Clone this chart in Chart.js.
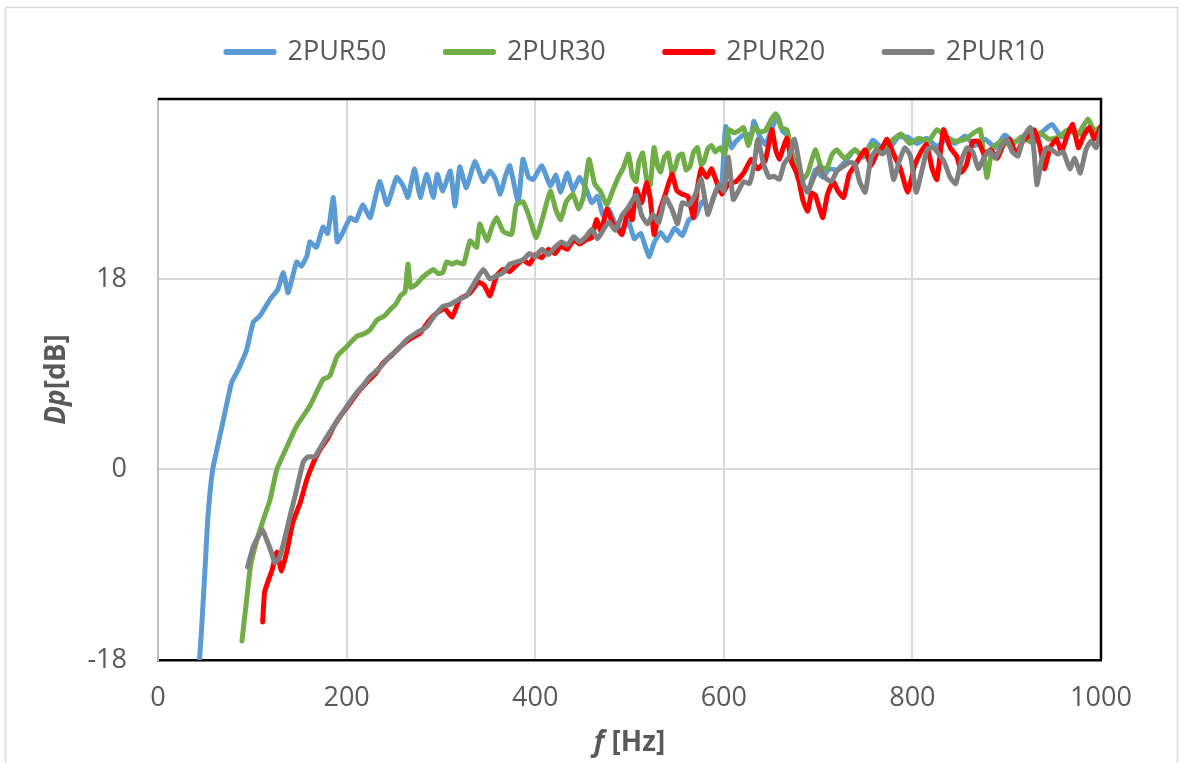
<!DOCTYPE html>
<html>
<head>
<meta charset="utf-8">
<script src="https://cdn.jsdelivr.net/npm/chart.js@4.4.1/dist/chart.umd.min.js"></script>
<style>
  html, body { margin: 0; padding: 0; background: #fff; }
  #wrap { width: 1181px; height: 763px; }
</style>
</head>
<body>
<div id="wrap"><canvas id="chart" width="1181" height="763"></canvas></div>
<script>
// series labels and colours
const SERIES = ['2PUR50', '2PUR30', '2PUR20', '2PUR10'];
const COLORS = ['#5b9bd5', '#70ad47', '#ff0000', '#808080'];

// tick values
const X_TICK_STEP = 200;
const Y_TICKS = [-18, 0, 18];

// 2PUR50 (blue)
const F_50 = [44,46,50,53,58,64,71,78,85,94,101,108,119,127,133,138,147,152,158,161,168,175,180,186,190,195,
  204,210,217,225,235,243,253,260,265,272,278,285,292,296,302,310,315,320,327,336,345,352,358,363,368,373,382,387,393,398,
  407,416,422,427,434,440,447,454,460,466,472,478,485,492,499,505,512,517,521,526,533,540,548,556,563,570,577,585,592,598,
  602,608,613,621,629,632,638,644,650,657,662,667,673,678,684,689,697,705,712,720,728,739,748,758,767,776,785,795,
  805,815,826,836,845,856,866,877,888,898,908,918,928,938,948,958,968,978,988,998,1000];
const DP_50 = [-18,-15.4,-9.2,-4.4,0,2.5,5.4,8.2,9.4,11.3,13.9,14.5,16.1,17,18.6,16.7,19.6,19.2,20.2,21.5,21.0,22.9,22.3,25.7,21.5,22.2,
  23.8,23.5,25,23.8,27.2,25,27.6,26.8,25.7,28.4,25.7,27.9,25.7,27.9,26.3,28.2,24.9,28.6,26.6,29.1,27.2,28.2,27.4,26.0,27.6,28.7,25.3,29.3,27.6,27.4,
  28.7,26.8,27.8,26.2,28.0,26.4,27.6,26.5,25.2,25.8,24.0,24.6,23.2,22.6,23.4,21.8,22.3,21.0,20.1,21.4,22.4,21.6,22.8,22.1,23.6,23.9,25.3,24.7,26.4,27.2,
  32.4,30.4,31.0,31.6,31.7,32.9,31.5,30.7,32.0,33.4,32.0,31.6,29.6,27.6,26.9,26.2,28.3,27.6,28.4,28.3,29.0,30.2,29.5,31.1,30.4,30.4,31.4,31.4,
  30.8,31.3,30.5,31.2,30.8,31.5,30.6,31.2,30.4,31.6,30.9,31.5,30.8,31.9,32.6,31.4,32.0,31.7,32.3,31.8,32.0];

// 2PUR30 (green)
const F_30 = [89,94,98,105,113,119,126,137,147,161,175,182,190,200,211,218,225,232,240,246,252,257,262,265,268,274,281,287,292,297,
  302,306,312,317,324,331,338,341,349,354,359,366,375,380,387,394,401,408,416,422,427,433,440,446,451,457,463,469,476,482,488,493,499,
  503,507,510,514,518,522,526,530,533,537,541,545,548,552,556,560,564,568,572,576,579,583,587,591,596,601,605,611,616,621,626,632,638,644,650,655,
  661,667,673,678,684,689,697,703,709,715,720,728,739,748,758,767,776,788,797,807,817,826,836,846,856,865,872,879,885,895,905,915,925,935,945,955,965,975,986,993,1000];
const DP_30 = [-16.2,-12.3,-9.2,-6.6,-4.4,-2.8,0,2.2,4.1,6,8.5,8.8,10.7,11.6,12.6,12.8,13.2,14.1,14.5,15.1,15.6,16.4,16.8,19.4,17.2,17.5,18.2,18.6,18.9,18.5,
  18.6,19.6,19.4,19.6,19.4,21.6,21.0,23.2,21.6,22.9,23.8,22.5,22.2,25.0,25.3,23.8,21.9,23.8,26.3,24.5,23.6,25.3,26.0,24.6,25.7,29.3,27.0,26.3,25.0,26.3,27.6,28.4,29.8,
  27.7,27.2,29.1,29.9,27.5,26.9,30.4,28.6,28.1,29.5,29.9,28.0,28.4,29.6,29.8,28.3,28.6,30.0,30.4,28.8,29.1,30.3,30.6,30.0,30.4,29.8,32.1,31.8,32.0,32.3,30.6,32.3,31.9,32.0,33.0,33.6,
  32.3,32.1,29.6,28.4,27.4,28.0,30.2,28.6,28.4,29.8,30.2,29.4,30.2,29.6,30.7,30.0,30.9,31.7,30.8,31.3,31.0,32.1,31.4,31.0,31.2,31.8,32.1,27.6,30.4,31.0,30.6,31.4,31.0,31.8,31.2,31.4,32.1,31.6,33.1,32.0,32.4];

// 2PUR20 (red)
const F_20 = [111,113,117,121,126,131,137,143,151,158,166,172,179,186,193,204,212,221,230,239,248,257,267,278,287,296,304,312,320,330,340,346,352,359,366,373,380,387,394,
  400,407,414,421,427,434,441,447,454,460,465,470,476,482,487,492,499,503,507,513,518,522,526,532,538,545,550,556,562,568,572,576,582,587,593,598,
  605,613,621,629,636,644,651,655,659,663,667,672,678,684,689,693,697,701,705,710,716,721,727,733,739,745,750,756,762,768,773,780,787,795,
  802,809,815,821,826,833,840,847,852,857,864,870,876,883,890,897,903,910,917,923,929,935,940,946,953,958,964,970,976,982,988,993,1000];
const DP_20 = [-14.4,-11.6,-10.5,-9.5,-7.8,-9.6,-7.6,-5,-3.1,-0.9,0.9,1.9,2.8,4.0,5,6.3,7.3,8.2,9.0,10.1,10.8,11.6,12.3,12.9,14.0,14.8,15.2,14.4,16.1,16.6,17.7,17.4,16.4,18.3,18.9,18.7,19.3,19.8,19.4,
  20.3,20.0,20.8,20.4,21.1,20.8,21.7,21.3,21.7,21.9,23.6,22.5,24.6,23.3,22.8,22.2,24.6,23.6,26.5,25.2,27.1,25.6,22.2,24.4,26.0,27.9,26.4,26.0,25.8,23.8,26.6,28.4,27.6,28.4,27.0,26.0,
  27.0,27.2,28.0,29.3,28.4,29.2,32.1,30.2,29.3,30.4,31.3,29.0,27.9,25.4,24.4,26.1,25.9,24.8,23.8,26.0,27.2,26.3,25.7,27.9,28.7,29.6,30.2,28.7,29.8,30.4,31.2,29.8,28.5,26.2,
  28.6,30.0,30.7,28.4,27.4,32.1,30.4,29.6,28.1,28.7,31.0,31.0,29.8,30.2,29.4,30.8,31.2,29.8,31.0,31.5,32.1,30.6,28.4,30.4,31.2,30.0,31.5,32.6,30.4,31.6,32.3,31.2,32.4];

// 2PUR10 (grey)
const F_10 = [95,101,106,111,115,119,124,129,135,140,147,154,159,166,175,184,193,202,211,218,225,235,246,255,264,274,285,293,302,310,318,327,336,345,352,359,366,373,380,387,394,
  400,407,414,421,428,434,441,447,454,460,466,472,478,485,492,499,507,513,519,525,531,538,545,551,556,563,569,576,583,589,595,
  600,605,610,616,621,627,632,636,642,648,653,659,664,669,675,680,684,689,695,701,707,714,720,726,733,739,744,750,756,762,768,774,780,786,792,798,
  804,810,816,822,828,834,840,846,852,858,864,870,876,882,888,894,900,906,912,918,925,929,932,937,942,948,954,960,967,972,978,984,989,995,1000];
const DP_10 = [-9.2,-7.3,-6.4,-5.7,-6.6,-7.5,-8.8,-8.3,-6.3,-4.4,-1.9,0.7,1.2,1.2,2.5,3.8,5,6.2,7.3,8.0,8.8,9.6,10.7,11.4,12.3,12.9,13.5,14.5,15.4,15.6,16.0,16.4,17.7,18.9,18.0,18.3,18.6,19.4,19.6,19.8,20.4,
  20.1,20.8,20.3,21.0,21.5,21.2,22.0,21.5,22.0,22.7,21.8,22.6,23.4,22.6,24.0,24.8,25.9,24.0,23.2,24.1,23.3,25.7,24.6,23.2,25.2,25.0,25.8,27.4,24.1,25.7,26.9,
  26.3,29.5,25.5,26.4,27.2,27.0,28.7,31.2,28.9,27.6,27.7,27.4,28.9,29.5,31.2,28.9,27.0,26.2,27.5,28.6,27.6,27.2,28.2,28.6,29.0,28.9,27.2,26.2,29.4,30.2,29.8,30.2,27.4,29.1,30.4,29.6,
  26.2,28.2,30.3,30.4,29.8,29.0,27.6,27.0,29.2,30.4,30.0,28.4,29.5,30.1,29.4,30.5,31.2,30.0,29.6,31.4,32.3,30.0,26.9,29.2,30.4,30.2,29.8,30.0,28.4,29.4,28.0,30.2,31.0,30.4,32.1];

const FREQS = [F_50, F_30, F_20, F_10];
const VALUES = [DP_50, DP_30, DP_20, DP_10];

const TEXT = '#595959';
const GRID = '#d9d9d9';

function points(fs, vs) {
  return fs.map((f, i) => ({ x: f, y: vs[i] }));
}

// frame, legend placement and mixed-style axis titles
const frame = {
  id: 'frame',
  afterLayout(chart) {
    const lg = chart.legend;
    if (!lg || !lg.lineWidths) return;
    const pad = lg.options.labels.padding;
    const start = (lg.left + pad + lg.right - lg.lineWidths[0]) / 2;
    const dx = 226 - start;
    const dy = 52 - (lg.top + pad + 27 / 2);
    lg.left += dx; lg.right += dx;
    lg.top += dy; lg.bottom += dy;
  },
  beforeDraw(chart) {
    const ctx = chart.ctx;
    ctx.save();
    ctx.fillStyle = '#fff';
    ctx.fillRect(0, 0, chart.width, chart.height);
    ctx.strokeStyle = GRID;
    ctx.lineWidth = 1.5;
    ctx.strokeRect(5.5, 7.5, 1172, 800);
    ctx.restore();
  },
  afterDraw(chart) {
    const ctx = chart.ctx;
    const a = chart.chartArea;
    ctx.save();
    ctx.strokeStyle = '#000';
    ctx.lineWidth = 2.5;
    ctx.beginPath();
    ctx.moveTo(a.left, a.top);
    ctx.lineTo(a.right, a.top);
    ctx.lineTo(a.right, a.bottom);
    ctx.stroke();

    ctx.fillStyle = TEXT;
    ctx.textBaseline = 'middle';
    const it = "italic bold 28px 'Open Sans', sans-serif";
    const bd = "bold 28px 'Open Sans', sans-serif";

    // x title: f [Hz]
    ctx.font = it; const w1 = ctx.measureText('f ').width;
    ctx.font = bd; const w2 = ctx.measureText('[Hz]').width;
    let x = (a.left + a.right) / 2 - (w1 + w2) / 2;
    ctx.textAlign = 'left';
    ctx.font = it; ctx.fillText('f ', x, 743);
    ctx.font = bd; ctx.fillText('[Hz]', x + w1, 743);

    // y title: Dp[dB]
    ctx.translate(57, (a.top + a.bottom) / 2);
    ctx.rotate(-Math.PI / 2);
    ctx.font = it; const v1 = ctx.measureText('Dp').width;
    ctx.font = bd; const v2 = ctx.measureText('[dB]').width;
    x = -(v1 + v2) / 2;
    ctx.font = it; ctx.fillText('Dp', x, 0);
    ctx.font = bd; ctx.fillText('[dB]', x + v1, 0);
    ctx.restore();
  }
};

Chart.defaults.font.family = "'Open Sans', sans-serif";
Chart.defaults.color = TEXT;

new Chart(document.getElementById('chart').getContext('2d'), {
  type: 'line',
  data: {
    datasets: SERIES.map((name, i) => ({
      label: name,
      data: points(FREQS[i], VALUES[i]),
      borderColor: COLORS[i],
      backgroundColor: COLORS[i],
      borderWidth: 5,
      pointRadius: 0,
      tension: 0.15,
      borderJoinStyle: 'round',
      borderCapStyle: 'round',
      order: SERIES.length - i, // grey drawn on top, like the original
    })),
  },
  options: {
    responsive: false,
    animation: false,
    devicePixelRatio: 1,
    layout: { padding: { top: 3, right: 80, bottom: 0, left: 0 } },
    plugins: {
      legend: {
        position: 'top',
        labels: {
          sort: (a, b) => a.datasetIndex - b.datasetIndex,
          boxWidth: 48,
          boxHeight: 1,
          padding: 59,
          color: TEXT,
          font: { size: 27 },
        },
      },
      tooltip: { enabled: false },
    },
    scales: {
      x: {
        type: 'linear',
        min: 0,
        max: 1000,
        ticks: {
          stepSize: X_TICK_STEP, padding: 22, color: TEXT, font: { size: 27 }, maxRotation: 0,
          callback: (v) => String(v),
        },
        grid: { color: GRID, lineWidth: 2, drawTicks: false },
        border: { color: '#000', width: 2.5 },
        afterFit: (s) => { s.height = 103; },
      },
      y: {
        min: -18,
        max: 35,
        afterBuildTicks: (s) => { s.ticks = Y_TICKS.map(v => ({ value: v })); },
        ticks: { padding: 31, color: TEXT, font: { size: 27 } },
        grid: { color: GRID, lineWidth: 2, drawTicks: false },
        border: { color: '#bfbfbf', width: 2 },
        afterFit: (s) => { s.width = 158; },
      },
    },
  },
  plugins: [frame],
});
</script>
</body>
</html>
